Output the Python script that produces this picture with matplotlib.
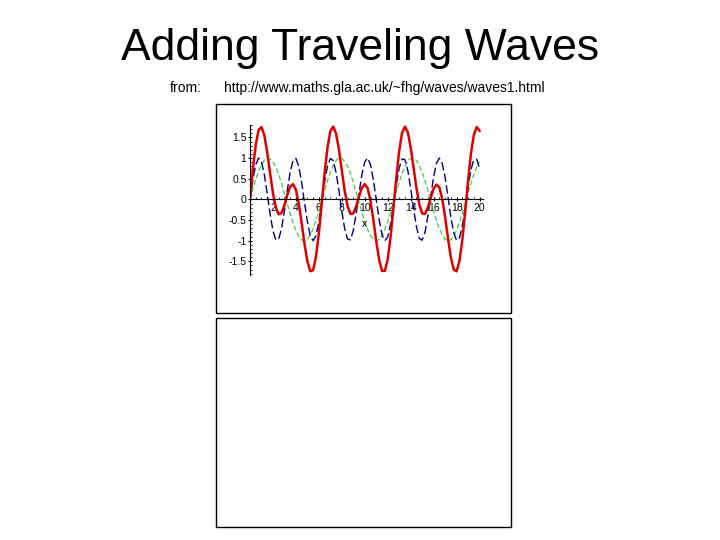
import matplotlib.pyplot as plt
from matplotlib.patches import Rectangle
from matplotlib.ticker import MultipleLocator

plt.rcParams['font.family'] = ['Liberation Sans', 'DejaVu Sans']

x = [i * 0.25 for i in range(81)]
green = [0.00, 0.25, 0.48, 0.68, 0.84, 0.95, 1.00, 0.98, 0.91, 0.78,
         0.60, 0.38, 0.14, -0.11, -0.35, -0.57, -0.76, -0.90, -0.98, -1.00,
         -0.96, -0.86, -0.71, -0.51, -0.28, -0.03, 0.22, 0.45, 0.66, 0.82,
         0.94, 1.00, 0.99, 0.92, 0.80, 0.63, 0.41, 0.17, -0.08, -0.32,
         -0.54, -0.73, -0.88, -0.97, -1.00, -0.97, -0.88, -0.73, -0.54, -0.31,
         -0.07, 0.18, 0.42, 0.63, 0.80, 0.93, 0.99, 0.99, 0.94, 0.82,
         0.65, 0.44, 0.21, -0.04, -0.29, -0.52, -0.71, -0.86, -0.96, -1.00,
         -0.98, -0.89, -0.75, -0.56, -0.34, -0.10, 0.15, 0.39, 0.60, 0.78,
         0.91]
blue = [0.00, 0.48, 0.84, 1.00, 0.91, 0.60, 0.14, -0.35, -0.76, -0.98,
        -0.96, -0.71, -0.28, 0.22, 0.66, 0.94, 0.99, 0.80, 0.41, -0.08,
        -0.54, -0.88, -1.00, -0.88, -0.54, -0.07, 0.42, 0.80, 0.99, 0.94,
        0.65, 0.21, -0.29, -0.71, -0.96, -0.98, -0.75, -0.34, 0.15, 0.60,
        0.91, 1.00, 0.84, 0.47, -0.01, -0.49, -0.85, -1.00, -0.91, -0.59,
        -0.13, 0.36, 0.76, 0.98, 0.96, 0.70, 0.27, -0.22, -0.66, -0.94,
        -0.99, -0.79, -0.40, 0.08, 0.55, 0.88, 1.00, 0.87, 0.53, 0.06,
        -0.43, -0.81, -0.99, -0.93, -0.64, -0.20, 0.30, 0.72, 0.96, 0.97,
        0.75]
red = [0.00, 0.73, 1.32, 1.68, 1.75, 1.55, 1.14, 0.63, 0.15, -0.20,
       -0.36, -0.33, -0.14, 0.11, 0.31, 0.37, 0.23, -0.10, -0.57, -1.08,
       -1.50, -1.74, -1.71, -1.39, -0.82, -0.10, 0.64, 1.25, 1.65, 1.76,
       1.59, 1.21, 0.70, 0.21, -0.16, -0.35, -0.34, -0.17, 0.07, 0.28,
       0.37, 0.27, -0.04, -0.50, -1.01, -1.46, -1.73, -1.73, -1.45, -0.90,
       -0.20, 0.54, 1.18, 1.61, 1.76, 1.63, 1.26, 0.77, 0.28, -0.12,
       -0.34, -0.35, -0.19, 0.04, 0.26, 0.36, 0.29, 0.01, -0.43, -0.94,
       -1.41, -1.70, -1.74, -1.49, -0.98, -0.30, 0.45, 1.11, 1.56, 1.75,
       1.66]

x_ticks = [2, 4, 6, 8, 10, 12, 14, 16, 18, 20]
y_ticks = [-1.5, -1, -0.5, 0, 0.5, 1, 1.5]
y_labels = ['-1.5', '-1', '-0.5', '0', '0.5', '1', '1.5']

fig = plt.figure(figsize=(7.2, 5.4), dpi=100)
fig.text(0.5, 0.91, 'Adding Traveling Waves', ha='center', va='center', fontsize=32)
fig.text(0.236, 0.837, 'from:', ha='left', va='center', fontsize=10)
fig.text(0.311, 0.837, 'http://www.maths.gla.ac.uk/~fhg/waves/waves1.html',
         ha='left', va='center', fontsize=10)

# the two framed panels
for y0 in [104, 318]:
    fig.patches.append(Rectangle((216 / 720, 1 - (y0 + 209) / 540), 295 / 720, 209 / 540,
                                 transform=fig.transFigure, fill=False,
                                 edgecolor='black', linewidth=1))

ax = fig.add_axes([250 / 720, 1 - 275 / 540, 233 / 720, 150 / 540])
ax.plot(x, green, color='#44cc44', linestyle=(0, (4, 2)), linewidth=0.9)
ax.plot(x, blue, color='#000080', linestyle=(0, (6, 2.5)), linewidth=1.0)
ax.plot(x, red, color='#e00000', linewidth=1.8)

ax.set_xlim(0, 20.3)
ax.set_ylim(-1.83, 1.8)
for s in ['top', 'right']:
    ax.spines[s].set_visible(False)
ax.spines['left'].set_position(('data', 0))
ax.spines['bottom'].set_position(('data', 0))
ax.spines['left'].set_linewidth(0.8)
ax.spines['bottom'].set_linewidth(0.8)
ax.set_xticks(x_ticks)
ax.set_yticks(y_ticks)
ax.set_yticklabels(y_labels)
ax.xaxis.set_minor_locator(MultipleLocator(0.5))
ax.yaxis.set_minor_locator(MultipleLocator(0.1))
ax.tick_params(axis='both', which='major', labelsize=7.5, length=3, direction='inout', pad=1)
ax.tick_params(axis='both', which='minor', length=1.5, direction='in')
ax.text(10, -0.6, 'x', fontsize=7.5, ha='center', va='center')
ax.patch.set_alpha(0)

fig.savefig('out.png', dpi=100)
